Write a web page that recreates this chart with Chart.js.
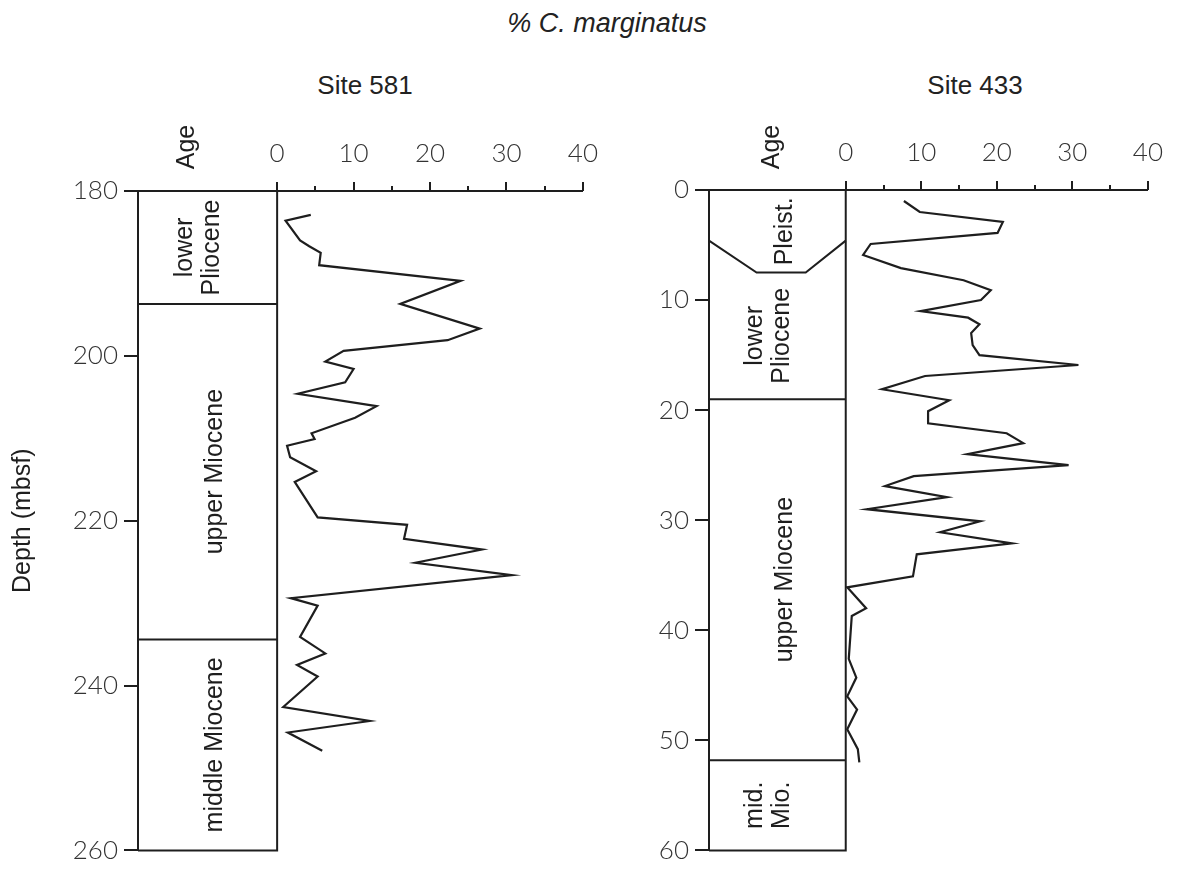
<!DOCTYPE html>
<html lang="en">
<head>
<meta charset="UTF-8" />
<title>% C. marginatus – Sites 581 and 433</title>
<script src="https://cdn.jsdelivr.net/npm/chart.js"></script>
<style>
  body {
    margin: 0;
    background: #fff;
    width: 1185px;
    height: 872px;
    position: relative;
    overflow: hidden;
    font-family: 'Liberation Sans', Arial, sans-serif;
    color: #222;
  }
  .head {
    position: absolute;
    font-size: 26px;
    line-height: 30px;
    text-align: center;
    white-space: nowrap;
  }
  #title { left: 407px; width: 400px; top: 8px; font-style: italic; font-size: 27px; }
  #site581 { left: 265px; width: 200px; top: 70px; }
  #site433 { left: 875px; width: 200px; top: 70px; }
  canvas { position: absolute; top: 0; }
  #chart581 { left: 0; }
  #chart433 { left: 600px; }
</style>
</head>
<body>

<div class="head" id="title">% C. marginatus</div>
<div class="head" id="site581">Site 581</div>
<div class="head" id="site433">Site 433</div>

<canvas id="chart581" width="620" height="872"></canvas>
<canvas id="chart433" width="585" height="872"></canvas>

<script>
  // % C. marginatus vs depth (mbsf)
  const depth581 = [182.9, 183.6, 186.0, 186.7, 187.5, 189.0, 190.9, 193.7, 196.7, 198.1,
    199.4, 200.7, 201.6, 203.2, 204.6, 206.1, 207.5, 209.4, 210.1, 210.9,
    212.3, 214.0, 215.3, 219.6, 220.5, 222.2, 223.5, 225.1, 226.6, 229.4,
    230.3, 234.1, 236.1, 237.5, 238.9, 242.6, 244.3, 245.7, 247.9];
  const pct581 = [4.4, 1.1, 3.0, 4.2, 5.7, 5.5, 24.0, 16.1, 26.5, 22.3,
    8.7, 6.3, 10.0, 8.9, 2.7, 13.0, 10.2, 4.5, 4.9, 1.3,
    1.7, 5.1, 2.3, 5.3, 17.0, 16.6, 26.8, 18.1, 30.7, 1.8,
    5.3, 3.0, 6.3, 2.6, 5.3, 0.8, 12.1, 1.4, 5.9];

  const depth433 = [1.0, 2.0, 2.9, 3.9, 4.9, 5.9, 7.1, 8.2, 9.1, 10.0,
    11.0, 11.6, 12.2, 13.0, 14.1, 15.0, 15.9, 16.9, 18.1, 19.1,
    20.1, 21.2, 22.1, 23.0, 24.0, 25.0, 26.0, 26.9, 27.9, 29.0,
    30.1, 31.1, 32.1, 33.1, 35.1, 36.1, 38.0, 38.7, 42.6, 44.3,
    46.0, 47.2, 49.0, 50.8, 52.0];
  const pct433 = [7.7, 9.8, 20.8, 20.1, 3.3, 2.3, 7.3, 15.6, 19.2, 17.9,
    9.9, 16.2, 17.7, 16.6, 16.8, 17.7, 30.8, 10.5, 4.8, 13.7,
    10.9, 10.9, 21.3, 23.5, 16.1, 29.5, 9.0, 5.2, 13.4, 2.8,
    17.8, 12.5, 22.0, 9.4, 8.9, 0.2, 2.7, 0.8, 0.4, 1.4,
    0.2, 1.5, 0.2, 1.6, 1.8];

  // age column
  const ageNames581 = ['lower\nPliocene', 'upper Miocene', 'middle Miocene'];
  const ageTops581 = [180, 193.7, 234.4];
  const ageBases581 = [193.7, 234.4, 260];

  const ageNames433 = ['Pleist.', 'lower\nPliocene', 'upper Miocene', 'mid.\nMio.'];
  const ageTops433 = [0, 7.5, 19.0, 51.8];
  const ageBases433 = [7.5, 19.0, 51.8, 60];
  // Pleistocene / Pliocene boundary is drawn as a trough
  const pleistLineX = [-18.1, -11.8, -5.3, 0];
  const pleistLineDepth = [4.6, 7.5, 7.5, 4.6];

  const pctTicks = [0, 10, 20, 30, 40];
  const pctMinorTicks = [0, 5, 10, 15, 20, 25, 30, 35, 40];

  const INK = '#1e1e1e';
  const TICK_FONT = { family: 'Lato, "DejaVu Sans", sans-serif', weight: '300', size: 26 };
  const TEXT_FONT = '25px "Liberation Sans", Arial, sans-serif';

  function toPoints(xs, ys) {
    return xs.map((x, i) => ({ x: x, y: ys[i] }));
  }

  function lineSet(points, width) {
    return {
      data: points,
      showLine: true,
      borderColor: INK,
      borderWidth: width,
      pointRadius: 0,
      tension: 0,
      clip: false
    };
  }

  const ageColumnPlugin = {
    id: 'ageColumn',
    afterDatasetsDraw(chart, args, opts) {
      const { ctx, chartArea, scales } = chart;
      const x0 = scales.x.getPixelForValue(0);
      const cx = (chartArea.left + x0) / 2;

      ctx.save();
      ctx.fillStyle = INK;
      ctx.font = TEXT_FONT;
      ctx.textAlign = 'center';
      ctx.textBaseline = 'middle';

      opts.names.forEach((name, i) => {
        const yc = (scales.y.getPixelForValue(opts.tops[i]) + scales.y.getPixelForValue(opts.bases[i])) / 2;
        const lines = name.split('\n');
        lines.forEach((ln, j) => {
          const x = lines.length > 1 ? cx - 9 + (j - (lines.length - 1) / 2) * 27 : cx + 8;
          ctx.save();
          ctx.translate(x, yc);
          ctx.rotate(-Math.PI / 2);
          ctx.fillText(ln, 0, 0);
          ctx.restore();
        });
      });

      // "Age" heading over the column
      ctx.save();
      ctx.translate(chartArea.left + opts.headDx, 147);
      ctx.rotate(-Math.PI / 2);
      ctx.fillText('Age', 0, 0);
      ctx.restore();

      // tick marks on the % axis (long at tens, short at fives)
      ctx.strokeStyle = INK;
      ctx.lineWidth = 2;
      pctMinorTicks.forEach(v => {
        const px = Math.round(scales.x.getPixelForValue(v));
        const len = v % 10 === 0 ? 9 : 5;
        ctx.beginPath();
        ctx.moveTo(px, chartArea.top);
        ctx.lineTo(px, chartArea.top - len);
        ctx.stroke();
      });
      ctx.restore();
    }
  };

  function makeChart(id, o) {
    const datasets = [
      lineSet(toPoints(o.pct, o.depth), 2.2),
      // right edge of the age column and its base
      lineSet([{ x: 0, y: o.yMin }, { x: 0, y: o.yMax }, { x: o.xMin, y: o.yMax }], 2),
      ...o.boundaries.map(b => lineSet(b, 2))
    ];

    return new Chart(document.getElementById(id), {
      type: 'scatter',
      data: { datasets },
      plugins: [ageColumnPlugin],
      options: {
        responsive: false,
        animation: false,
        events: [],
        layout: { padding: { left: 0, top: 0, right: o.padRight, bottom: o.padBottom } },
        plugins: {
          legend: { display: false },
          tooltip: { enabled: false },
          ageColumn: { names: o.names, tops: o.tops, bases: o.bases, headDx: o.headDx }
        },
        scales: {
          x: {
            type: 'linear',
            position: 'top',
            min: o.xMin,
            max: 40,
            afterBuildTicks: axis => { axis.ticks = pctTicks.map(v => ({ value: v })); },
            afterFit: axis => { axis.height = o.top; },
            grid: { display: true, drawOnChartArea: false, drawTicks: false },
            border: { display: true, color: INK, width: 2 },
            ticks: { font: TICK_FONT, color: '#333', padding: 22, maxRotation: 0, autoSkip: false }
          },
          y: {
            type: 'linear',
            reverse: true,
            min: o.yMin,
            max: o.yMax,
            afterFit: axis => { axis.width = o.left; },
            grid: { drawOnChartArea: false, tickLength: 14, color: INK, lineWidth: 2 },
            border: { display: true, color: INK, width: 2 },
            ticks: { stepSize: o.yStep, font: TICK_FONT, color: '#333', padding: 6 },
            title: {
              display: o.yTitle !== '',
              text: o.yTitle,
              color: INK,
              font: { family: '"Liberation Sans", Arial, sans-serif', size: 25 },
              padding: { top: 8, bottom: 0 }
            }
          }
        }
      }
    });
  }

  makeChart('chart581', {
    depth: depth581, pct: pct581,
    names: ageNames581, tops: ageTops581, bases: ageBases581,
    boundaries: [
      [{ x: -18.2, y: ageBases581[0] }, { x: 0, y: ageBases581[0] }],
      [{ x: -18.2, y: ageBases581[1] }, { x: 0, y: ageBases581[1] }]
    ],
    xMin: -18.2, yMin: 180, yMax: 260, yStep: 20,
    left: 138, top: 191, padRight: 27, padBottom: 14,
    headDx: 49, yTitle: 'Depth (mbsf)'
  });

  makeChart('chart433', {
    depth: depth433, pct: pct433,
    names: ageNames433, tops: ageTops433, bases: ageBases433,
    boundaries: [
      toPoints(pleistLineX, pleistLineDepth),
      [{ x: -18.1, y: ageBases433[1] }, { x: 0, y: ageBases433[1] }],
      [{ x: -18.1, y: ageBases433[2] }, { x: 0, y: ageBases433[2] }]
    ],
    xMin: -18.1, yMin: 0, yMax: 60, yStep: 10,
    left: 109, top: 190, padRight: 17, padBottom: 21,
    headDx: 63, yTitle: ''
  });
</script>

</body>
</html>
